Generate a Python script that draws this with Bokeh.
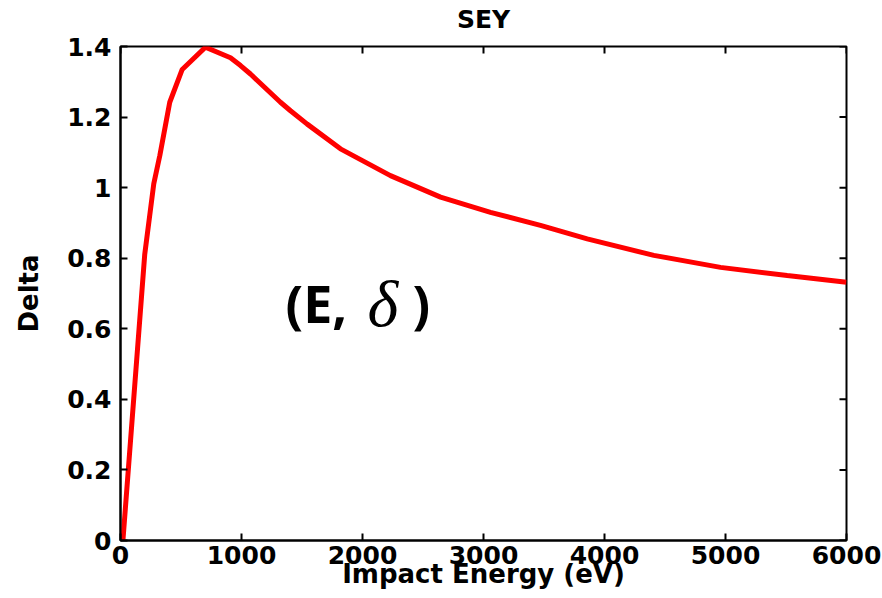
import math
from bokeh.plotting import figure
from bokeh.models import Range1d, LinearAxis, FixedTicker, Label
from bokeh.embed import file_html
from bokeh.resources import INLINE

# ---- data ----
energy = [20, 200, 275, 325, 407, 510, 702, 909, 992, 1074, 1322, 1405, 1543,
          1818, 2231, 2645, 3058, 3471, 3857, 4408, 4959, 5510, 6000]
delta = [0.0, 0.81, 1.011, 1.091, 1.242, 1.335, 1.398, 1.368, 1.346, 1.322, 1.242,
         1.218, 1.18, 1.11, 1.034, 0.973, 0.93, 0.893, 0.855, 0.808, 0.774, 0.751, 0.732]

x_ticks = [0, 1000, 2000, 3000, 4000, 5000, 6000]
x_tick_labels = ["0", "1000", "2000", "3000", "4000", "5000", "6000"]
y_ticks = [0, 0.2, 0.4, 0.6, 0.8, 1.0, 1.2, 1.4]
y_tick_labels = ["0", "0.2", "0.4", "0.6", "0.8", "1", "1.2", "1.4"]

title_text = "SEY"
x_label = "Impact Energy (eV)"
y_label = "Delta"

FONT = "DejaVu Sans"
X0, X1 = 0, 6000
Y0, Y1 = 0, 1.4

p = figure(width=882, height=598, output_backend="svg", toolbar_location=None,
           x_range=Range1d(X0, X1), y_range=Range1d(Y0, Y1),
           min_border_left=120, min_border_right=36, min_border_top=46, min_border_bottom=58,
           x_axis_type=None, y_axis_type=None)
p.grid.visible = False
p.outline_line_color = "black"
p.outline_line_width = 2
p.background_fill_color = "white"
p.border_fill_color = "white"


def style_axis(ax, ticks, labels, standoff, label, label_standoff):
    ax.ticker = FixedTicker(ticks=ticks)
    ax.major_label_overrides = {t: l for t, l in zip(ticks, labels)}
    ax.axis_line_width = 2
    ax.axis_line_color = "black"
    ax.major_tick_line_width = 2
    ax.major_tick_line_color = "black"
    ax.major_tick_in = 7
    ax.major_tick_out = 0
    ax.minor_tick_in = 0
    ax.minor_tick_out = 0
    ax.major_label_standoff = standoff
    ax.major_label_text_font = FONT
    ax.major_label_text_font_style = "bold"
    ax.major_label_text_font_size = "25px"
    ax.major_label_text_color = "black"
    ax.axis_label = label
    ax.axis_label_text_font = FONT
    ax.axis_label_text_font_style = "bold"
    ax.axis_label_text_font_size = "26px"
    ax.axis_label_text_color = "black"
    ax.axis_label_standoff = label_standoff


xb = LinearAxis()
style_axis(xb, x_ticks, x_tick_labels, 5, x_label, -8)
p.add_layout(xb, "below")
yl = LinearAxis()
style_axis(yl, y_ticks, y_tick_labels, 9, y_label, 20)
p.add_layout(yl, "left")

# title drawn as the label of a tickless axis above the frame
top_axis = LinearAxis(ticker=FixedTicker(ticks=[]))
top_axis.axis_line_color = None
top_axis.major_tick_in = 0
top_axis.major_tick_out = 0
top_axis.minor_tick_in = 0
top_axis.minor_tick_out = 0
top_axis.axis_label = title_text
top_axis.axis_label_text_font = FONT
top_axis.axis_label_text_font_style = "bold"
top_axis.axis_label_text_font_size = "25px"
top_axis.axis_label_text_color = "black"
top_axis.axis_label_standoff = 13
p.add_layout(top_axis, "above")

# inward ticks on the top and right sides of the box
p.ray(x=x_ticks, y=[Y1] * len(x_ticks), length=7, length_units="screen",
      angle=-math.pi / 2, line_color="black", line_width=2)
p.ray(x=[X1] * len(y_ticks), y=y_ticks, length=7, length_units="screen",
      angle=math.pi, line_color="black", line_width=2)

p.line(energy, delta, line_color="#ff0000", line_width=5)

# annotation (E, δ)
p.add_layout(Label(x=1364, y=0.674, text="(E,", text_font="Open Sans", text_font_style="bold",
                   text_font_size="52px", text_align="left", text_baseline="alphabetic",
                   text_color="black"))
p.add_layout(Label(x=2041, y=0.672, text="δ", text_font="Liberation Serif", text_font_style="italic",
                   text_font_size="66px", text_align="left", text_baseline="alphabetic",
                   text_color="black"))
p.add_layout(Label(x=2413, y=0.674, text=")", text_font="Open Sans", text_font_style="bold",
                   text_font_size="52px", text_align="left", text_baseline="alphabetic",
                   text_color="black"))

open("out.html", "w").write(file_html(p, INLINE))
